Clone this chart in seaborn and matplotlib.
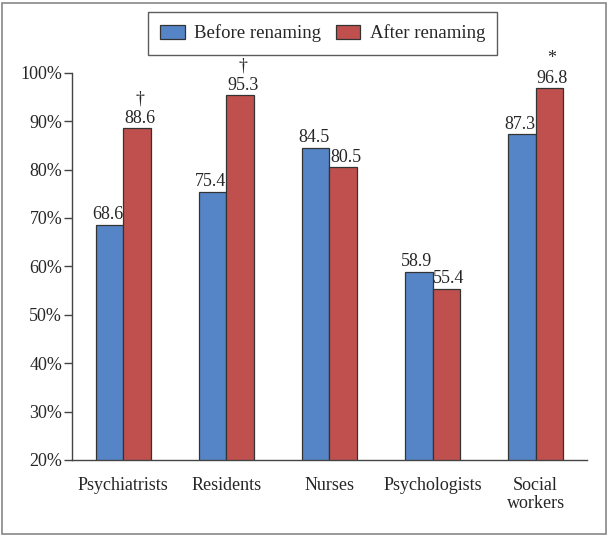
import pandas as pd
import matplotlib.pyplot as plt
import seaborn as sns
from matplotlib.patches import Rectangle

# Data
groups = ["Psychiatrists", "Residents", "Nurses", "Psychologists", "Social\nworkers"]
before = [68.6, 75.4, 84.5, 58.9, 87.3]
after = [88.6, 95.3, 80.5, 55.4, 96.8]
marks = ["\u2020", "\u2020", "", "", "*"]
series = ["Before renaming", "After renaming"]
colors = ["#5585c6", "#c0504d"]

df = pd.DataFrame({
    "group": groups * 2,
    "value": before + after,
    "series": [series[0]] * len(groups) + [series[1]] * len(groups),
})

sns.set_style("white")
plt.rcParams["font.family"] = ["Liberation Serif", "DejaVu Serif"]

fig = plt.figure(figsize=(6.09, 5.37), dpi=100)
ax = fig.add_axes([0.118, 0.1434, 0.846, 0.7212])

sns.barplot(data=df, x="group", y="value", hue="series", palette=colors,
            width=0.54, gap=0, edgecolor="#333333", linewidth=0.9,
            saturation=1, ax=ax, legend=False)

ax.set_ylim(20, 100)
ax.set_xlim(-0.5, len(groups) - 0.5)
ax.set_yticks(range(20, 101, 10))
ax.set_yticklabels([f"{v}%" for v in range(20, 101, 10)], fontsize=13)
ax.set_xticks(range(len(groups)))
ax.set_xticklabels(groups, fontsize=13, linespacing=1.1)
ax.set_xticks([i - 0.5 for i in range(len(groups) + 1)], minor=True)
ax.tick_params(axis="x", which="major", length=0, pad=12)
ax.tick_params(axis="x", which="minor", length=5, width=1, color="#444444", direction="out")
ax.tick_params(axis="y", length=6, width=1, color="#444444", direction="out", left=True, pad=1)
ax.set_xlabel("")
ax.set_ylabel("")
sns.despine(ax=ax)
for s in ["left", "bottom"]:
    ax.spines[s].set_color("#444444")
    ax.spines[s].set_linewidth(1)

# value labels, nudged apart a little so neighbours don't collide
for cont, dx in zip(ax.containers, [-1.2, 1.8]):
    texts = ax.bar_label(cont, fmt="%.1f", fontsize=13, padding=1)
    for t in texts:
        t.xyann = (dx, 1)

# significance marks above the red bars
for i, m in enumerate(marks):
    if m:
        ax.annotate(m, (i + 0.135, after[i]), xytext=(1.8, 15), textcoords="offset points",
                    ha="center", va="bottom", fontsize=13)

# legend
handles = [Rectangle((0, 0), 1, 1, facecolor=c, edgecolor="#333333", linewidth=0.9) for c in colors]
leg = fig.legend(handles, series, loc="center", bbox_to_anchor=(0.530, 0.9376), ncol=2,
                 fontsize=13.5, frameon=True, fancybox=False, edgecolor="#333333",
                 handlelength=1.3, handleheight=0.8, columnspacing=0.8, handletextpad=0.5,
                 borderpad=0.65, borderaxespad=0)
leg.get_frame().set_linewidth(1)

# outer frame
fig.patches.append(Rectangle((0.003, 0.005), 0.992, 0.99, transform=fig.transFigure,
                             fill=False, edgecolor="#888888", linewidth=1.2))

fig.savefig("out.png", dpi=100)
